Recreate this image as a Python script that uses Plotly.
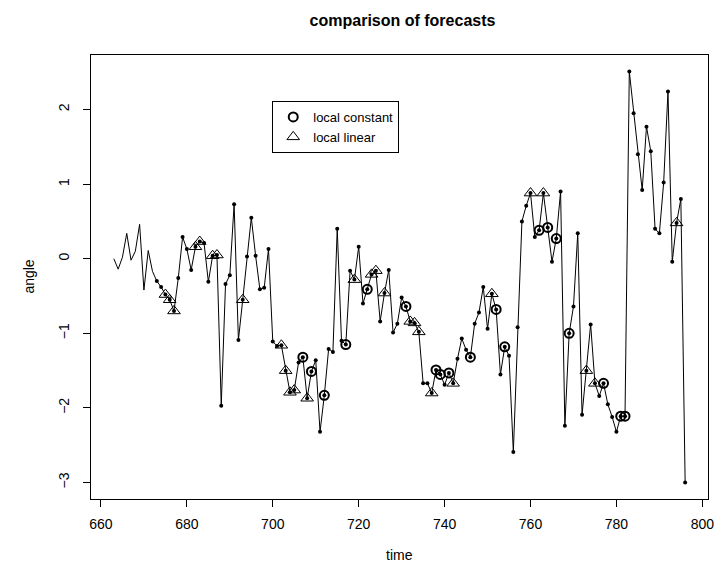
import plotly.graph_objects as go

# ---- data ----
time = list(range(663, 797))
angle = [
    0.00, -0.14, 0.02, 0.34, -0.02, 0.10, 0.46, -0.42, 0.11, -0.17,      # 663-672
    -0.30, -0.38, -0.48, -0.55, -0.70, -0.26, 0.29, 0.13, -0.15, 0.16,    # 673-682
    0.23, 0.21, -0.31, 0.04, 0.05, -1.97, -0.34, -0.22, 0.73, -1.09,      # 683-692
    -0.55, 0.03, 0.55, 0.04, -0.41, -0.39, 0.13, -1.11, -1.17, -1.16,     # 693-702
    -1.50, -1.79, -1.76, -1.39, -1.32, -1.87, -1.51, -1.36, -2.32, -1.83, # 703-712
    -1.21, -1.25, 0.40, -1.10, -1.15, -0.16, -0.28, 0.16, -0.60, -0.41,   # 713-722
    -0.21, -0.16, -0.84, -0.46, -0.15, -0.99, -0.87, -0.52, -0.64, -0.84, # 723-732
    -0.86, -0.98, -1.67, -1.67, -1.80, -1.49, -1.55, -1.69, -1.53, -1.67, # 733-742
    -1.34, -1.07, -1.22, -1.32, -0.87, -0.72, -0.38, -0.94, -0.47, -0.68, # 743-752
    -1.55, -1.18, -1.30, -2.59, -0.92, 0.50, 0.71, 0.88, 0.29, 0.38,      # 753-762
    0.88, 0.42, -0.04, 0.27, 0.90, -2.24, -1.00, -0.64, 0.34, -2.09,      # 763-772
    -1.50, -0.88, -1.67, -1.84, -1.67, -1.95, -2.12, -2.32, -2.11, -2.11, # 773-782
    2.51, 1.95, 1.40, 0.92, 1.77, 1.44, 0.40, 0.34, 1.02, 2.24,           # 783-792
    -0.04, 0.48, 0.80, -3.00                                              # 793-796
]
dot_start = 673
local_constant_times = [707, 709, 712, 717, 722, 731, 738, 739, 741, 746,
                        752, 754, 762, 764, 766, 769, 777, 781, 782]
local_linear_times = [675, 676, 677, 682, 683, 686, 687, 693, 702, 703, 704,
                      705, 708, 719, 723, 724, 726, 732, 733, 734, 737, 742,
                      751, 760, 763, 773, 775, 794]
x_ticks = [660, 680, 700, 720, 740, 760, 780, 800]
y_ticks = [-3, -2, -1, 0, 1, 2]

val = dict(zip(time, angle))
dot_t = [t for t in time if t >= dot_start]

FONT = "Liberation Sans, Arial, Helvetica, sans-serif"
FS = 14

fig = go.Figure()
fig.add_trace(go.Scatter(x=time, y=angle, mode="lines",
                         line=dict(color="black", width=1), showlegend=False,
                         hoverinfo="skip"))
fig.add_trace(go.Scatter(x=dot_t, y=[val[t] for t in dot_t], mode="markers",
                         marker=dict(color="black", size=4), showlegend=False))
fig.add_trace(go.Scatter(x=local_constant_times,
                         y=[val[t] for t in local_constant_times],
                         mode="markers", name="local constant",
                         marker=dict(symbol="circle-open", size=9, color="black",
                                     line=dict(width=2, color="black"))))
fig.add_trace(go.Scatter(x=local_linear_times,
                         y=[val[t] for t in local_linear_times],
                         mode="markers", name="local linear",
                         marker=dict(symbol="triangle-up-open", size=11, color="black",
                                     line=dict(width=1, color="black"))))

L, R, T, B = 91, 10, 55, 67
W, H = 724, 566
pw = W - L - R
ph = H - T - B

fig.update_layout(
    width=W, height=H,
    margin=dict(l=L, r=R, t=T, b=B),
    paper_bgcolor="white", plot_bgcolor="white",
    font=dict(family=FONT, size=FS, color="black"),
    title=dict(text="<b>comparison of forecasts</b>", x=(L + pw / 2) / W, xanchor="center",
               y=1 - 20 / H, yanchor="middle", yref="container",
               font=dict(size=16, family=FONT)),
    showlegend=True,
    legend=dict(x=(274 - L) / pw, y=(H - B - 101) / ph, xanchor="left", yanchor="top",
                bordercolor="black", borderwidth=1, bgcolor="white",
                font=dict(size=13, family=FONT), tracegroupgap=0,
                itemwidth=30),
    xaxis=dict(range=[657.68, 801.32], tickvals=x_ticks, ticks="outside", ticklen=7,
               tickcolor="black", showline=True, linecolor="black", linewidth=1,
               mirror=True, showgrid=False, zeroline=False, ticklabelstandoff=5,
               tickfont=dict(size=FS, family=FONT)),
    yaxis=dict(range=[-3.22, 2.73], tickvals=y_ticks,
               ticktext=[str(v).replace("-", "\u2212") for v in y_ticks],
               ticks="outside", ticklen=7, ticklabelstandoff=8,
               tickcolor="black", showline=True, linecolor="black", linewidth=1,
               mirror=True, showgrid=False, zeroline=False, tickangle=-90,
               tickfont=dict(size=FS, family=FONT)),
    annotations=[
        dict(text="time", x=0.5, y=(H - B - 555) / ph, xref="paper", yref="paper",
             showarrow=False, xanchor="center", yanchor="middle",
             font=dict(size=FS, family=FONT)),
        dict(text="angle", x=(28 - L) / pw, y=0.5, xref="paper", yref="paper",
             showarrow=False, xanchor="center", yanchor="middle", textangle=-90,
             font=dict(size=FS, family=FONT)),
    ],
)

fig.write_html("out.html")
